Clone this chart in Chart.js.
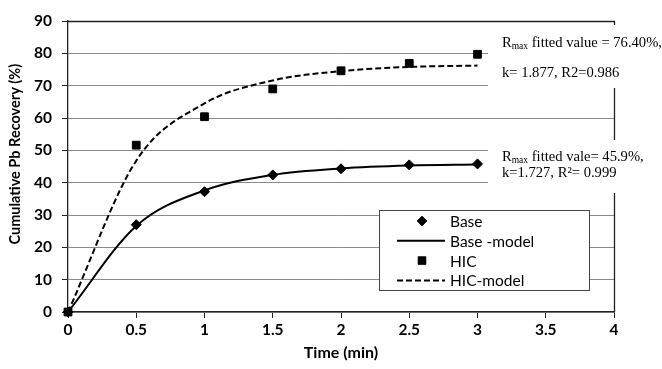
<!DOCTYPE html>
<html><head><meta charset="utf-8">
<script src="https://cdn.jsdelivr.net/npm/chart.js@4/dist/chart.umd.min.js"></script>
<style>html,body{margin:0;padding:0;background:#fff;overflow:hidden}canvas{display:block}</style>
</head><body>
<canvas id="c" width="662" height="369"></canvas>
<script>
const times = [0, 0.5, 1, 1.5, 2, 2.5, 3];
const baseValues = [0, 27.0, 37.2, 42.4, 44.3, 45.5, 45.8];
const hicValues = [0, 51.6, 60.4, 69.0, 74.6, 76.9, 79.7];
const baseModel = [0, 26.6, 37.6, 42.4, 44.4, 45.3, 45.6];
const hicModel = [0, 46.8, 64.5, 71.6, 74.5, 75.8, 76.2];
const seriesLabels = ['Base', 'Base -model', 'HIC', 'HIC-model'];
const xTickLabels = ['0', '0.5', '1', '1.5', '2', '2.5', '3', '3.5', '4'];
const yTickLabels = ['0', '10', '20', '30', '40', '50', '60', '70', '80', '90'];
const hicNote = ['fitted value = 76.40%,', 'k= 1.877, R2=0.986'];
const baseNote = ['fitted vale= 45.9%,', 'k=1.727, R\u00B2= 0.999'];

const toXY = (xs, ys) => xs.map((x, i) => ({x: x, y: ys[i]}));

const serif = '"Liberation Serif", "Times New Roman", serif';
const sans = 'Lato, "Open Sans", sans-serif';

const boxPlugin = {
  id: 'boxPlugin',
  beforeDatasetsDraw(chart) {
    const {ctx, chartArea: a} = chart;
    ctx.save();
    ctx.strokeStyle = '#222';
    ctx.lineWidth = 1.3;
    ctx.beginPath();
    ctx.moveTo(a.left, a.top + 0.5);
    ctx.lineTo(a.right + 0.5, a.top + 0.5);
    ctx.lineTo(a.right + 0.5, a.bottom);
    ctx.stroke();
    ctx.restore();
  },
  afterDraw(chart) {
    const {ctx, chartArea: a} = chart;
    ctx.save();
    // annotation boxes
    ctx.fillStyle = '#fff';
    ctx.fillRect(a.right - 126, a.top + 4, 200, 63);
    ctx.fillRect(a.right - 126, a.top + 119, 200, 53);
    ctx.fillStyle = '#000';
    ctx.textBaseline = 'alphabetic';
    const fs = 14.6;
    const drawR = (x, y, rest) => {
      ctx.font = fs + 'px ' + serif;
      ctx.fillText('R', x, y);
      let w = ctx.measureText('R').width;
      ctx.font = '9.5px ' + serif;
      ctx.fillText('max', x + w, y + 2);
      w += ctx.measureText('max').width;
      ctx.font = fs + 'px ' + serif;
      ctx.fillText(' ' + rest, x + w, y);
    };
    const tx = a.right - 112;
    drawR(tx, a.top + 26, hicNote[0]);
    ctx.font = fs + 'px ' + serif;
    ctx.fillText(hicNote[1], tx, a.top + 56);
    drawR(tx, a.top + 140, baseNote[0]);
    ctx.font = fs + 'px ' + serif;
    ctx.fillText(baseNote[1], tx, a.top + 156);

    // legend
    const lx = a.left + 311, ly = a.top + 189, lw = 210, lh = 80;
    ctx.fillStyle = '#fff';
    ctx.fillRect(lx, ly, lw, lh);
    ctx.strokeStyle = '#444';
    ctx.lineWidth = 1;
    ctx.strokeRect(lx + 0.5, ly + 0.5, lw, lh);
    const ds = chart.data.datasets;
    ds.forEach((d, i) => {
      const cy = ly + 11 + i * 19.8;
      const sx0 = lx + 18, sx1 = lx + 66, mx = lx + 43;
      ctx.save();
      if (d.showLine) {
        ctx.strokeStyle = d.borderColor;
        ctx.lineWidth = d.borderWidth;
        ctx.setLineDash(d.borderDash || []);
        ctx.beginPath();
        ctx.moveTo(sx0, cy);
        ctx.lineTo(sx1, cy);
        ctx.stroke();
      } else {
        Chart.helpers.drawPoint(ctx, {pointStyle: d.pointStyle, radius: d.pointRadius, borderWidth: 1, rotation: 0}, mx, cy);
        ctx.fillStyle = d.pointBackgroundColor;
        ctx.fill();
      }
      ctx.restore();
      ctx.fillStyle = '#000';
      ctx.font = '15.5px ' + sans;
      ctx.textBaseline = 'middle';
      ctx.fillText(d.label, lx + 71, cy + 1);
    });
    ctx.restore();
  }
};

new Chart(document.getElementById('c'), {
  type: 'scatter',
  data: {
    datasets: [
      {label: seriesLabels[0], data: toXY(times, baseValues), showLine: false, pointStyle: 'rectRot', pointRadius: 5, pointBackgroundColor: '#000', pointBorderColor: '#000', borderColor: '#000', clip: false},
      {label: seriesLabels[1], data: toXY(times, baseModel), showLine: true, borderColor: '#000', borderWidth: 2, pointRadius: 0, cubicInterpolationMode: 'monotone', clip: false},
      {label: seriesLabels[2], data: toXY(times, hicValues), showLine: false, pointStyle: 'rect', pointRadius: 5.5, pointBackgroundColor: '#000', pointBorderColor: '#000', borderColor: '#000', clip: false},
      {label: seriesLabels[3], data: toXY(times, hicModel), showLine: true, borderColor: '#000', borderWidth: 2, borderDash: [6, 3], pointRadius: 0, cubicInterpolationMode: 'monotone', clip: false}
    ]
  },
  options: {
    responsive: false,
    animation: false,
    devicePixelRatio: 1,
    layout: {padding: {left: 0, right: 48, top: 21, bottom: 0}},
    plugins: {legend: {display: false}, tooltip: {enabled: false}},
    scales: {
      x: {
        type: 'linear', min: 0, max: 4,
        afterFit: s => { s.height = 57; },
        ticks: {stepSize: 0.5, color: '#000', padding: 3, maxRotation: 0, autoSkip: false,
          font: {family: sans, size: 15.5, weight: 'bold'},
          callback: (v, i) => xTickLabels[i]},
        grid: {drawOnChartArea: false, drawTicks: true, tickLength: 6, color: '#222', tickColor: '#222'},
        border: {color: '#222', width: 1.3},
        title: {display: true, text: 'Time (min)', color: '#000', font: {family: sans, size: 16, weight: 'bold'}, padding: {top: 0, bottom: 7}}
      },
      y: {
        min: 0, max: 90,
        afterFit: s => { s.width = 68; },
        ticks: {stepSize: 10, color: '#000', padding: 10,
          font: {family: sans, size: 15.5, weight: 'bold'},
          callback: (v, i) => yTickLabels[i]},
        grid: {color: '#8a8a8a', lineWidth: 1, tickLength: 6, tickColor: '#222'},
        border: {color: '#222', width: 1.3},
        title: {display: true, text: '\u00A0\u00A0\u00A0\u00A0\u00A0\u00A0\u00A0Cumulative Pb Recovery (%)', color: '#000', font: {family: sans, size: 14.5, weight: 'bold'}, padding: {top: 7, bottom: 0}}
      }
    }
  },
  plugins: [boxPlugin]
});
</script>
</body></html>
